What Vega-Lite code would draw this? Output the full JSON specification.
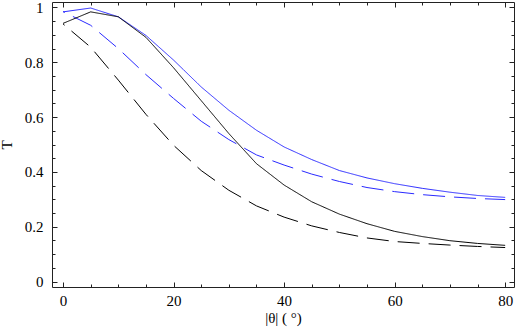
{
  "$schema": "https://vega.github.io/schema/vega-lite/v6.json",
  "width": 462,
  "height": 285,
  "autosize": {"type": "none"},
  "padding": {"left": 52, "top": 2, "right": 3, "bottom": 41},
  "config": {
    "view": {"stroke": "#222", "strokeWidth": 1},
    "axis": {
      "labelFont": "Liberation Serif",
      "titleFont": "Liberation Serif",
      "labelFontSize": 15,
      "titleFontSize": 15,
      "labelColor": "#000",
      "titleColor": "#000",
      "titleFontWeight": "normal",
      "grid": false,
      "domain": false,
      "tickColor": "#222",
      "tickWidth": 1
    }
  },
  "datasets": {
    "curves": [
      {"angle": 0, "T": 0.984, "series": "blue solid"},
      {"angle": 5, "T": 0.998, "series": "blue solid"},
      {"angle": 10, "T": 0.966, "series": "blue solid"},
      {"angle": 15, "T": 0.898, "series": "blue solid"},
      {"angle": 20, "T": 0.808, "series": "blue solid"},
      {"angle": 25, "T": 0.71, "series": "blue solid"},
      {"angle": 30, "T": 0.625, "series": "blue solid"},
      {"angle": 35, "T": 0.552, "series": "blue solid"},
      {"angle": 40, "T": 0.491, "series": "blue solid"},
      {"angle": 45, "T": 0.445, "series": "blue solid"},
      {"angle": 50, "T": 0.405, "series": "blue solid"},
      {"angle": 55, "T": 0.378, "series": "blue solid"},
      {"angle": 60, "T": 0.357, "series": "blue solid"},
      {"angle": 65, "T": 0.34, "series": "blue solid"},
      {"angle": 70, "T": 0.326, "series": "blue solid"},
      {"angle": 75, "T": 0.314, "series": "blue solid"},
      {"angle": 80, "T": 0.307, "series": "blue solid"},
      {"angle": 0, "T": 0.985, "series": "blue dashed"},
      {"angle": 5, "T": 0.935, "series": "blue dashed"},
      {"angle": 10, "T": 0.85, "series": "blue dashed"},
      {"angle": 15, "T": 0.755, "series": "blue dashed"},
      {"angle": 20, "T": 0.668, "series": "blue dashed"},
      {"angle": 25, "T": 0.585, "series": "blue dashed"},
      {"angle": 30, "T": 0.518, "series": "blue dashed"},
      {"angle": 35, "T": 0.462, "series": "blue dashed"},
      {"angle": 40, "T": 0.425, "series": "blue dashed"},
      {"angle": 45, "T": 0.392, "series": "blue dashed"},
      {"angle": 50, "T": 0.365, "series": "blue dashed"},
      {"angle": 55, "T": 0.343, "series": "blue dashed"},
      {"angle": 60, "T": 0.328, "series": "blue dashed"},
      {"angle": 65, "T": 0.317, "series": "blue dashed"},
      {"angle": 70, "T": 0.309, "series": "blue dashed"},
      {"angle": 75, "T": 0.303, "series": "blue dashed"},
      {"angle": 80, "T": 0.299, "series": "blue dashed"},
      {"angle": 0, "T": 0.942, "series": "black solid"},
      {"angle": 5, "T": 0.984, "series": "black solid"},
      {"angle": 10, "T": 0.966, "series": "black solid"},
      {"angle": 15, "T": 0.891, "series": "black solid"},
      {"angle": 20, "T": 0.78, "series": "black solid"},
      {"angle": 25, "T": 0.66, "series": "black solid"},
      {"angle": 30, "T": 0.54, "series": "black solid"},
      {"angle": 35, "T": 0.43, "series": "black solid"},
      {"angle": 40, "T": 0.352, "series": "black solid"},
      {"angle": 45, "T": 0.291, "series": "black solid"},
      {"angle": 50, "T": 0.246, "series": "black solid"},
      {"angle": 55, "T": 0.211, "series": "black solid"},
      {"angle": 60, "T": 0.183, "series": "black solid"},
      {"angle": 65, "T": 0.164, "series": "black solid"},
      {"angle": 70, "T": 0.149, "series": "black solid"},
      {"angle": 75, "T": 0.139, "series": "black solid"},
      {"angle": 80, "T": 0.132, "series": "black solid"},
      {"angle": 0, "T": 0.94, "series": "black dashed"},
      {"angle": 5, "T": 0.855, "series": "black dashed"},
      {"angle": 10, "T": 0.735, "series": "black dashed"},
      {"angle": 15, "T": 0.61, "series": "black dashed"},
      {"angle": 20, "T": 0.497, "series": "black dashed"},
      {"angle": 25, "T": 0.405, "series": "black dashed"},
      {"angle": 30, "T": 0.333, "series": "black dashed"},
      {"angle": 35, "T": 0.276, "series": "black dashed"},
      {"angle": 40, "T": 0.235, "series": "black dashed"},
      {"angle": 45, "T": 0.203, "series": "black dashed"},
      {"angle": 50, "T": 0.179, "series": "black dashed"},
      {"angle": 55, "T": 0.159, "series": "black dashed"},
      {"angle": 60, "T": 0.146, "series": "black dashed"},
      {"angle": 65, "T": 0.139, "series": "black dashed"},
      {"angle": 70, "T": 0.133, "series": "black dashed"},
      {"angle": 75, "T": 0.128, "series": "black dashed"},
      {"angle": 80, "T": 0.124, "series": "black dashed"}
    ]
  },
  "data": {"name": "curves"},
  "layer": [
    {
      "mark": {"type": "line", "strokeWidth": 1, "clip": true, "strokeDashOffset": 20},
      "encoding": {
        "x": {
          "field": "angle",
          "type": "quantitative",
          "scale": {"domain": [-2, 81.6], "nice": false, "zero": false},
          "axis": {
            "orient": "bottom",
            "title": "|θ|  ( °)",
            "values": [0, 5, 10, 15, 20, 25, 30, 35, 40, 45, 50, 55, 60, 65, 70, 75, 80],
            "labelExpr": "datum.value % 20 === 0 ? datum.label : ''",
            "tickSize": {"condition": {"test": "datum.value % 20 === 0", "value": -5}, "value": -3},
            "labelPadding": 11,
            "titlePadding": 2
          }
        },
        "y": {
          "field": "T",
          "type": "quantitative",
          "scale": {"domain": [-0.02, 1.02], "nice": false, "zero": false},
          "axis": {
            "orient": "left",
            "title": "T",
            "values": [0, 0.05, 0.1, 0.15, 0.2, 0.25, 0.3, 0.35, 0.4, 0.45, 0.5, 0.55, 0.6, 0.65, 0.7, 0.75, 0.8, 0.85, 0.9, 0.95, 1],
            "format": "~g",
            "labelExpr": "abs(datum.value * 5 - round(datum.value * 5)) < 0.001 ? datum.label : ''",
            "tickSize": {"condition": {"test": "abs(datum.value * 5 - round(datum.value * 5)) < 0.001", "value": -5}, "value": -3},
            "labelPadding": 14,
            "titlePadding": 10
          }
        },
        "color": {
          "field": "series",
          "type": "nominal",
          "scale": {"domain": ["blue solid", "blue dashed", "black solid", "black dashed"], "range": ["#2a2aff", "#2a2aff", "#000000", "#000000"]},
          "legend": null
        },
        "strokeDash": {
          "field": "series",
          "type": "nominal",
          "scale": {"domain": ["blue solid", "blue dashed", "black solid", "black dashed"], "range": [[1, 0], [22, 9], [1, 0], [22, 9]]},
          "legend": null
        }
      }
    },
    {
      "mark": {"type": "line", "opacity": 0},
      "encoding": {
        "x": {
          "field": "angle",
          "type": "quantitative",
          "scale": {"domain": [-2, 81.6], "nice": false, "zero": false},
          "axis": {
            "orient": "top",
            "title": null,
            "labels": false,
            "values": [0, 5, 10, 15, 20, 25, 30, 35, 40, 45, 50, 55, 60, 65, 70, 75, 80],
            "tickSize": {"condition": {"test": "datum.value % 20 === 0", "value": -5}, "value": -3}
          }
        },
        "y": {
          "field": "T",
          "type": "quantitative",
          "scale": {"domain": [-0.02, 1.02], "nice": false, "zero": false},
          "axis": {
            "orient": "right",
            "title": null,
            "labels": false,
            "values": [0, 0.05, 0.1, 0.15, 0.2, 0.25, 0.3, 0.35, 0.4, 0.45, 0.5, 0.55, 0.6, 0.65, 0.7, 0.75, 0.8, 0.85, 0.9, 0.95, 1],
            "tickSize": {"condition": {"test": "abs(datum.value * 5 - round(datum.value * 5)) < 0.001", "value": -5}, "value": -3}
          }
        },
        "detail": {"field": "series", "type": "nominal"}
      }
    }
  ],
  "resolve": {"scale": {"x": "independent", "y": "independent"}, "axis": {"x": "independent", "y": "independent"}}
}
